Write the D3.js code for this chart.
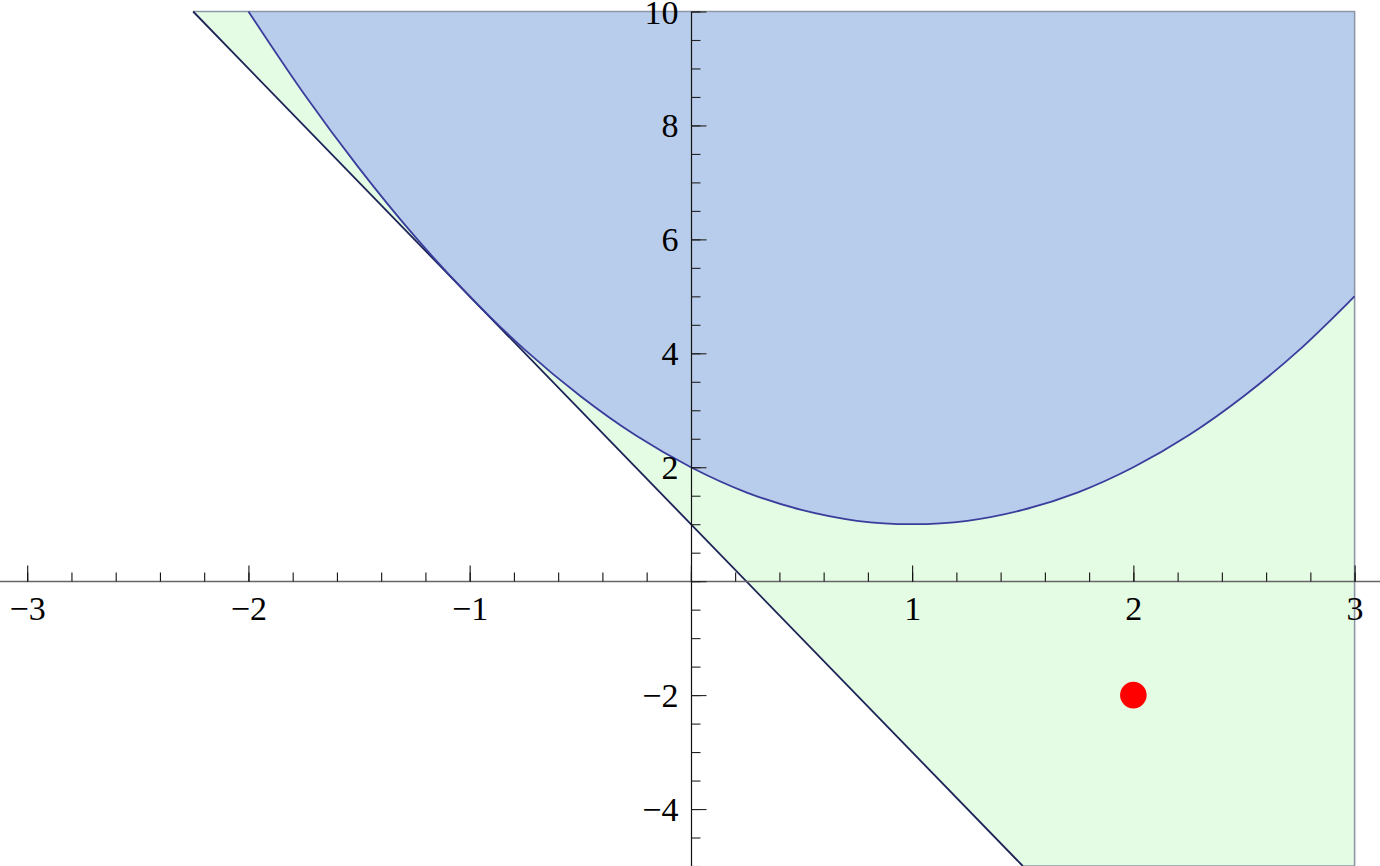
<!DOCTYPE html>
<html>
<head>
<meta charset="utf-8">
<script src="https://cdn.jsdelivr.net/npm/d3@7"></script>
<style>
  html, body { margin: 0; padding: 0; background: #fff; }
  svg { display: block; }
  .lbl text { font-family: "Liberation Serif", "Times New Roman", serif; font-size: 34px; }
</style>
</head>
<body>
<svg id="chart" width="1380" height="866"></svg>
<script>
// ---- data ----
const xDomain = [-3, 3];
const yDomain = [-5, 10];
// upper boundary curve (parabola) samples: x, y
const curveX = [-2, -1.75, -1.5, -1.25, -1, -0.75, -0.5, -0.25, 0, 0.25, 0.5, 0.75, 1, 1.25, 1.5, 1.75, 2, 2.25, 2.5, 2.75, 3];
const curveY = [10, 8.56, 7.25, 6.06, 5, 4.06, 3.25, 2.56, 2, 1.56, 1.25, 1.06, 1, 1.06, 1.25, 1.56, 2, 2.56, 3.25, 4.06, 5];
// straight boundary line endpoints
const lineX = [-2.25, 1.5];
const lineY = [10, -5];
// red point
const pointX = [2];
const pointY = [-2];
// tick labels
const xTickValues = [-3, -2, -1, 1, 2, 3];
const xTickLabels = ["\u22123", "\u22122", "\u22121", "1", "2", "3"];
const yTickValues = [-4, -2, 2, 4, 6, 8, 10];
const yTickLabels = ["\u22124", "\u22122", "2", "4", "6", "8", "10"];

// ---- styles ----
const greenFill = "#e4fce4";
const blueFill = "#b8cdec";
const curveStroke = "#3a3d9c";
const lineStroke = "#1c2356";
const edgeStroke = "#8e97a6";
const font = "Liberation Serif, Times New Roman, serif";

const svg = d3.select("#chart");
const x = d3.scaleLinear().domain(xDomain).range([27.2, 1354.6]);
const y = d3.scaleLinear().domain(yDomain).range([866, 11.5]);

const curvePts = curveX.map((v, i) => [v, curveY[i]]);
const linePts = lineX.map((v, i) => [v, lineY[i]]);

const lineGen = d3.line().x(d => x(d[0])).y(d => y(d[1]));
const smoothGen = d3.line().x(d => x(d[0])).y(d => y(d[1])).curve(d3.curveCatmullRom.alpha(0.5));

// green region: above the straight line
const greenPoly = [linePts[0], linePts[1], [xDomain[1], yDomain[0]], [xDomain[1], yDomain[1]]];
svg.append("path")
  .attr("d", lineGen(greenPoly) + "Z")
  .attr("fill", greenFill);

// blue region: above the curve
const bluePath = smoothGen(curvePts) + "L" + x(xDomain[1]) + "," + y(yDomain[1]) + "L" + x(curveX[0]) + "," + y(yDomain[1]) + "Z";
svg.append("path")
  .attr("d", bluePath)
  .attr("fill", blueFill);

// plot-range edges (gray)
svg.append("path")
  .attr("d", lineGen([[linePts[0][0], yDomain[1]], [xDomain[1], yDomain[1]], [xDomain[1], yDomain[0]], [linePts[1][0], yDomain[0]]]))
  .attr("fill", "none")
  .attr("stroke", edgeStroke)
  .attr("stroke-width", 1.6);

// straight line
svg.append("path")
  .attr("d", lineGen(linePts))
  .attr("fill", "none")
  .attr("stroke", lineStroke)
  .attr("stroke-width", 1.8);

// curve
svg.append("path")
  .attr("d", smoothGen(curvePts))
  .attr("fill", "none")
  .attr("stroke", curveStroke)
  .attr("stroke-width", 1.8);

// ---- axes ----
const x0 = Math.round(x(0)) + 0.5;
const y0 = Math.round(y(0)) + 0.5;

svg.append("line")
  .attr("x1", 0).attr("x2", 1380).attr("y1", y0).attr("y2", y0)
  .attr("stroke", "#666").attr("stroke-width", 1.3);
svg.append("line")
  .attr("x1", x0).attr("x2", x0).attr("y1", y(yDomain[1])).attr("y2", 866)
  .attr("stroke", "#111").attr("stroke-width", 1.2);

function styleTicks(g, color) {
  g.select(".domain").remove();
  g.selectAll(".tick line").attr("stroke", color).attr("stroke-width", 1.1);
}

svg.append("g").attr("transform", `translate(0,${y0})`)
  .call(d3.axisTop(x).tickValues(x.ticks(30)).tickSize(9).tickFormat(""))
  .call(g => styleTicks(g, "#111"));
svg.append("g").attr("transform", `translate(0,${y0})`)
  .call(d3.axisTop(x).tickValues(x.ticks(6)).tickSize(16).tickFormat(""))
  .call(g => styleTicks(g, "#111"));
svg.append("g").attr("class", "lbl").attr("transform", `translate(0,${y0})`)
  .call(d3.axisBottom(x).tickValues(xTickValues).tickSize(0).tickFormat((d, i) => xTickLabels[i]))
  .call(g => {
    g.attr("font-family", font).attr("font-size", 34);
    g.select(".domain").remove();
    g.selectAll(".tick line").remove();
    g.selectAll(".tick text")
      .attr("y", 38.5).attr("dy", null)
      .attr("fill", "#000");
  });

svg.append("g").attr("transform", `translate(${x0},0)`)
  .call(d3.axisRight(y).tickValues(y.ticks(30)).tickSize(9).tickFormat(""))
  .call(g => styleTicks(g, "#222"));
svg.append("g").attr("transform", `translate(${x0},0)`)
  .call(d3.axisRight(y).tickValues(d3.range(yDomain[0] + 1, yDomain[1] + 1, 2)).tickSize(15).tickFormat(""))
  .call(g => styleTicks(g, "#222"));
svg.append("g").attr("class", "lbl").attr("transform", `translate(${x0},0)`)
  .call(d3.axisLeft(y).tickValues(yTickValues).tickSize(0).tickPadding(13).tickFormat((d, i) => yTickLabels[i]))
  .call(g => {
    g.attr("font-family", font).attr("font-size", 34);
    g.select(".domain").remove();
    g.selectAll(".tick line").remove();
    g.selectAll(".tick text")
      .attr("dy", "0.34em")
      .attr("fill", "#000");
  });

// red point
svg.selectAll("circle.pt")
  .data(pointX.map((v, i) => [v, pointY[i]]))
  .join("circle")
  .attr("class", "pt")
  .attr("cx", d => x(d[0]))
  .attr("cy", d => y(d[1]))
  .attr("r", 13.3)
  .attr("fill", "#ff0000");
</script>
</body>
</html>
